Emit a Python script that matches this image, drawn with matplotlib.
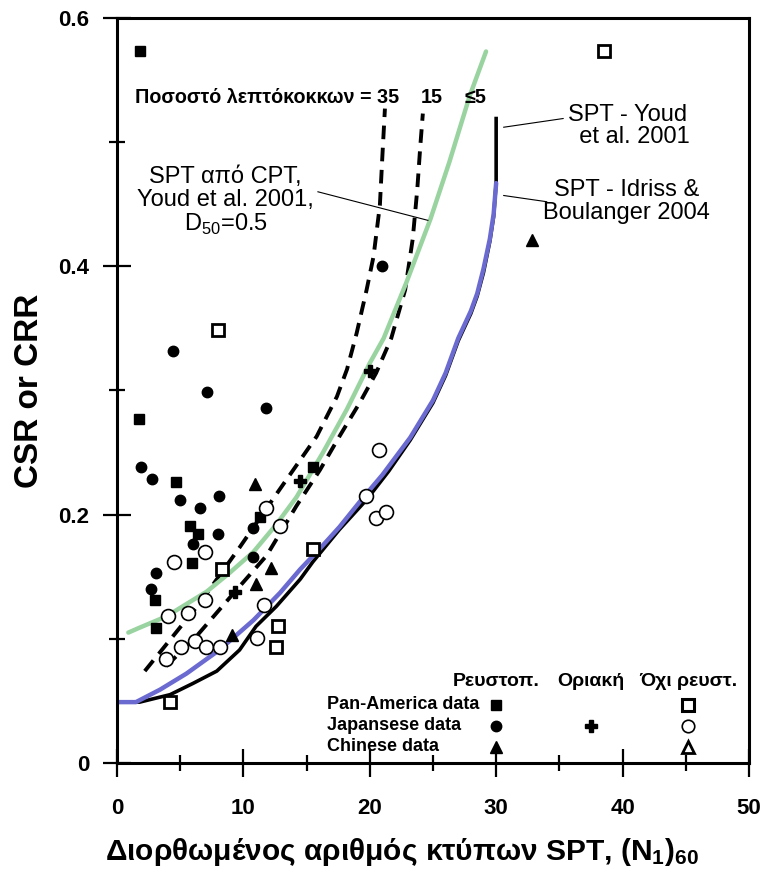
import matplotlib
matplotlib.use('Agg')
import matplotlib.pyplot as plt

plt.rcParams['font.family'] = ['Liberation Sans', 'DejaVu Sans']
plt.rcParams['mathtext.fontset'] = 'custom'
plt.rcParams['mathtext.rm'] = 'Liberation Sans'
plt.rcParams['mathtext.bf'] = 'Liberation Sans:bold'

# --- curves ---
youd_n = [0, 1.8, 4.2, 6.0, 7.9, 9.7, 11.0, 12.6, 14.5, 15.5, 17.6, 19.75, 21.5, 23.2, 25.0, 26.0, 27.0, 28.0, 28.5, 29.0, 29.5, 29.8, 30.0, 30.0]
youd_crr = [0.049, 0.049, 0.055, 0.064, 0.074, 0.091, 0.110, 0.126, 0.148, 0.162, 0.188, 0.212, 0.235, 0.260, 0.290, 0.312, 0.340, 0.362, 0.376, 0.395, 0.420, 0.440, 0.467, 0.519]

ib_n = [0, 1.5, 3.4, 5.5, 8.1, 10.8, 12.9, 14.5, 16.0, 17.6, 19.5, 21.0, 23.2, 25.0, 26.0, 27.0, 28.0, 28.5, 29.0, 29.5, 29.8, 30.0]
ib_crr = [0.049, 0.049, 0.059, 0.072, 0.091, 0.115, 0.137, 0.156, 0.172, 0.190, 0.214, 0.232, 0.262, 0.292, 0.314, 0.342, 0.364, 0.378, 0.398, 0.422, 0.442, 0.467]

cpt_n = [0.9, 1.8, 3.9, 7.1, 8.9, 10.8, 12.6, 14.2, 16.3, 18.2, 20.0, 21.1, 22.9, 24.8, 26.3, 27.9, 29.2]
cpt_crr = [0.105, 0.109, 0.118, 0.138, 0.153, 0.170, 0.192, 0.214, 0.250, 0.285, 0.322, 0.342, 0.387, 0.438, 0.484, 0.537, 0.573]

fc35_n = [2.2, 6.57, 9.73, 12.1, 13.95, 15.8, 17.4, 18.2, 18.96, 19.75, 20.3, 20.8, 21.0, 21.2]
fc35_crr = [0.074, 0.129, 0.174, 0.209, 0.236, 0.263, 0.295, 0.317, 0.346, 0.381, 0.408, 0.449, 0.489, 0.527]

fc15_n = [3.9, 6.2, 9.34, 11.84, 14.2, 16.06, 17.6, 19.2, 20.5, 21.7, 22.8, 23.4, 23.76, 24.0, 24.2]
fc15_crr = [0.078, 0.101, 0.138, 0.167, 0.207, 0.236, 0.263, 0.290, 0.314, 0.342, 0.381, 0.422, 0.462, 0.497, 0.523]

# --- field cases ---
pa_liq_n = [1.8, 1.74, 4.67, 5.77, 6.4, 5.9, 3.0, 3.1, 11.3, 15.5]
pa_liq_csr = [0.573, 0.277, 0.226, 0.191, 0.184, 0.161, 0.131, 0.109, 0.198, 0.238]

pa_non_n = [8.0, 38.5, 15.5, 8.3, 12.76, 12.6, 4.2]
pa_non_csr = [0.349, 0.573, 0.172, 0.156, 0.110, 0.093, 0.049]

jp_liq_n = [4.4, 7.1, 11.8, 1.87, 2.74, 5.0, 6.6, 8.07, 10.8, 8.0, 6.04, 3.1, 2.7, 10.8, 21.0]
jp_liq_csr = [0.332, 0.299, 0.286, 0.238, 0.229, 0.212, 0.205, 0.215, 0.189, 0.184, 0.176, 0.153, 0.140, 0.166, 0.400]

jp_mar_n = [14.5, 20.0, 9.34]
jp_mar_csr = [0.227, 0.316, 0.138]

jp_non_n = [11.8, 20.7, 19.7, 20.5, 21.3, 12.9, 6.96, 4.5, 6.96, 5.6, 4.06, 11.65, 11.1, 6.17, 5.1, 7.04, 8.15, 3.9]
jp_non_csr = [0.205, 0.252, 0.215, 0.197, 0.202, 0.191, 0.170, 0.162, 0.131, 0.121, 0.118, 0.127, 0.101, 0.098, 0.093, 0.093, 0.093, 0.084]

cn_liq_n = [10.9, 12.2, 11.0, 9.07, 32.8]
cn_liq_csr = [0.225, 0.157, 0.144, 0.103, 0.421]

# legend table
leg_rows = ['Pan-America data', 'Japansese data', 'Chinese data']
leg_cols = ['Ρευστοπ.', 'Οριακή', 'Όχι ρευστ.']

fig = plt.figure(figsize=(7.65, 8.8), dpi=100)
ax = fig.add_axes([0.1529, 0.133, 0.8261, 0.8466])

ax.plot(fc35_n, fc35_crr, color='black', lw=2.8, ls=(0, (3.5, 2.2)), zorder=2)
ax.plot(fc15_n, fc15_crr, color='black', lw=2.8, ls=(0, (3.5, 2.2)), zorder=2)
ax.plot(cpt_n, cpt_crr, color='#99d3a0', lw=3.2, solid_capstyle='round', zorder=2)
ax.plot(youd_n, youd_crr, color='black', lw=2.6, zorder=2)
ax.plot(ib_n, ib_crr, color='#6a6ad0', lw=3.2, solid_capstyle='round', zorder=2)

ax.plot(pa_liq_n, pa_liq_csr, 's', color='black', ms=7, zorder=3)
ax.plot(pa_non_n, pa_non_csr, 's', mfc='white', mec='black', mew=2, ms=9, zorder=3)
ax.plot(jp_liq_n, jp_liq_csr, 'o', color='black', ms=7.5, zorder=3)
ax.plot(jp_mar_n, jp_mar_csr, 'P', color='black', ms=8, zorder=3)
ax.plot(jp_non_n, jp_non_csr, 'o', mfc='white', mec='black', mew=1.2, ms=10, zorder=3)
ax.plot(cn_liq_n, cn_liq_csr, '^', color='black', ms=8, zorder=3)

# legend block
col_x = [30.0, 37.5, 45.2]
row_y = [0.0468, 0.0298, 0.0129]
for x, lab in zip(col_x, leg_cols):
    ax.text(x, 0.0653, lab, ha='center', va='center', fontsize=14, fontweight='bold')
for y, lab in zip(row_y, leg_rows):
    ax.text(16.6, y, lab, ha='left', va='center', fontsize=13, fontweight='bold')
ax.plot(col_x[0], row_y[0], 's', color='black', ms=7, clip_on=False)
ax.plot(col_x[2], row_y[0], 's', mfc='white', mec='black', mew=2.2, ms=8, clip_on=False)
ax.plot(col_x[0], row_y[1], 'o', color='black', ms=7.5, clip_on=False)
ax.plot(col_x[1], row_y[1], 'P', color='black', ms=8, clip_on=False)
ax.plot(col_x[2], row_y[1], 'o', mfc='white', mec='black', mew=1.2, ms=9, clip_on=False)
ax.plot(col_x[0], row_y[2], '^', color='black', ms=8, clip_on=False)
ax.plot(col_x[2], row_y[2], '^', mfc='white', mec='black', mew=2, ms=8, clip_on=False)

# fines content labels
ax.text(1.42, 0.536, 'Ποσοστό λεπτόκοκκων = 35', ha='left', va='center', fontsize=14.2, fontweight='bold')
ax.text(24.9, 0.536, '15', ha='center', va='center', fontsize=14.2, fontweight='bold')
ax.text(28.4, 0.536, '≤5', ha='center', va='center', fontsize=14.2, fontweight='bold')

# curve annotations
ax.text(8.6, 0.452, 'SPT από CPT,\nYoud et al. 2001,\nD$_{50}$=0.5', ha='center', va='center',
        multialignment='center', fontsize=17, linespacing=1.05)
ax.plot([15.9, 24.6], [0.460, 0.437], color='black', lw=0.8)
ax.text(40.4, 0.513, 'SPT - Youd\n  et al. 2001', ha='center', va='center',
        multialignment='center', fontsize=17, linespacing=1.0)
ax.plot([30.6, 35.3], [0.512, 0.519], color='black', lw=0.8)
ax.text(40.3, 0.452, 'SPT - Idriss &\nBoulanger 2004', ha='center', va='center',
        multialignment='center', fontsize=17, linespacing=1.05)
ax.plot([30.6, 34.0], [0.457, 0.452], color='black', lw=0.8)

ax.set_xlim(0, 50)
ax.set_ylim(0, 0.6)
ax.set_xticks([0, 10, 20, 30, 40, 50])
ax.set_xticks([5, 15, 25, 35, 45], minor=True)
ax.set_yticks([0, 0.2, 0.4, 0.6])
ax.set_yticklabels(['0', '0.2', '0.4', '0.6'])
ax.set_yticks([0.1, 0.3, 0.5], minor=True)
ax.tick_params(which='major', direction='inout', length=20, width=1.6, labelsize=16, pad=10)
ax.tick_params(axis='x', which='major', pad=15)
ax.tick_params(which='minor', direction='inout', length=11, width=1.6)
for lab in ax.get_xticklabels() + ax.get_yticklabels():
    lab.set_fontweight('bold')
for s in ax.spines.values():
    s.set_linewidth(2.2)

ax.set_ylabel('CSR or CRR', fontsize=24, fontweight='bold')
ax.yaxis.set_label_coords(-0.114, 0.5)
ax.set_xlabel(r'Διορθωμένος αριθμός κτύπων SPT, $\mathbf{(N_1)_{60}}$', fontsize=21.5, fontweight='bold')
ax.xaxis.set_label_coords(0.451, -0.098)

fig.savefig('out.png', dpi=100)
